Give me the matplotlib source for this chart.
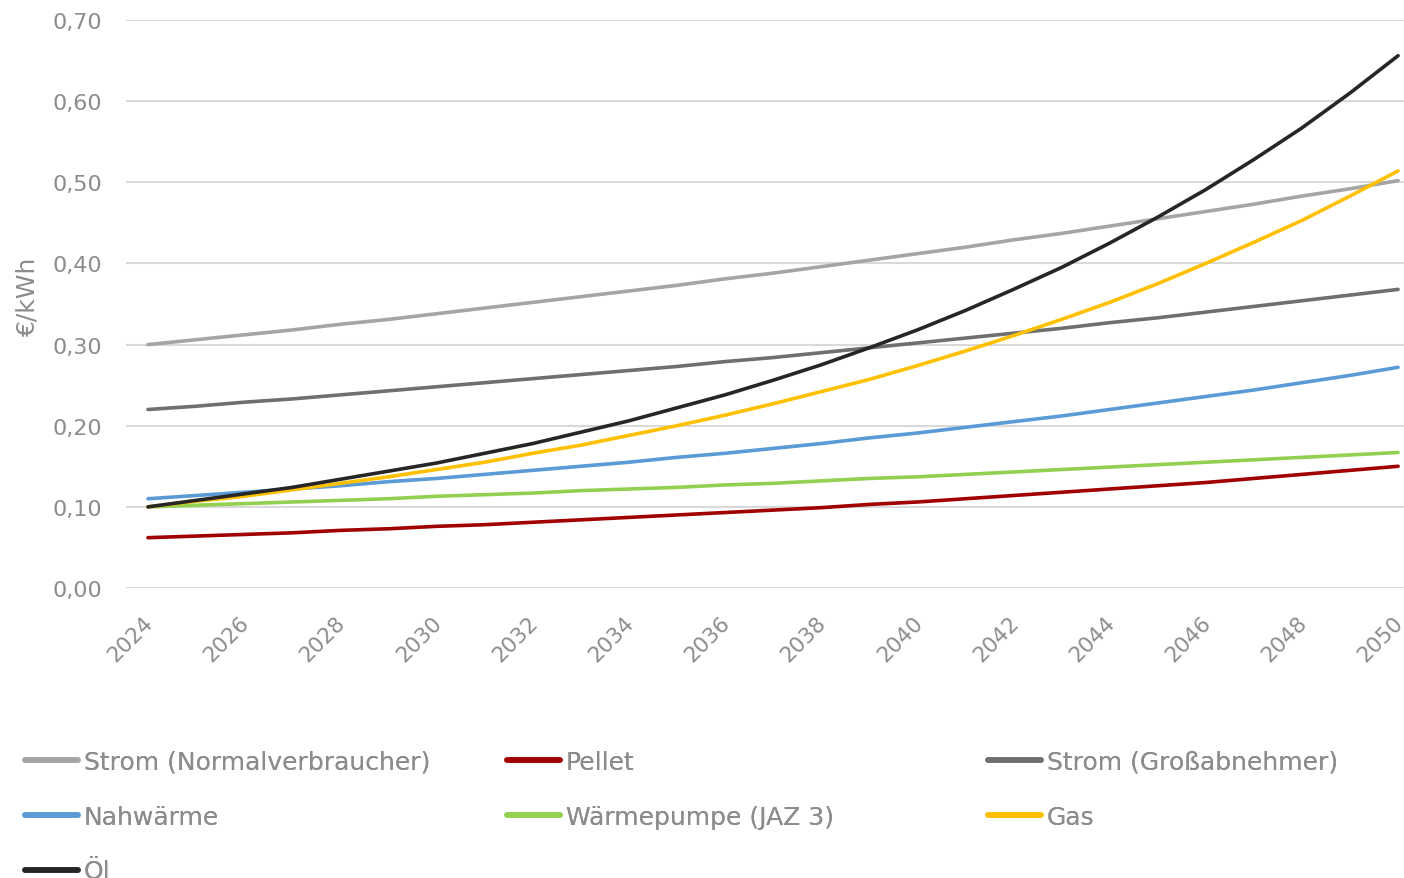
import matplotlib
matplotlib.use("Agg")
import matplotlib.pyplot as plt
from matplotlib.transforms import ScaledTranslation
from matplotlib.ticker import FuncFormatter, MultipleLocator

years = list(range(2024, 2051))

strom_normal = [0.300, 0.306, 0.312, 0.318, 0.325, 0.331, 0.338, 0.345, 0.352, 0.359,
                0.366, 0.373, 0.381, 0.388, 0.396, 0.404, 0.412, 0.420, 0.429, 0.437,
                0.446, 0.455, 0.464, 0.473, 0.483, 0.492, 0.502]
pellet = [0.062, 0.064, 0.066, 0.068, 0.071, 0.073, 0.076, 0.078, 0.081, 0.084,
          0.087, 0.090, 0.093, 0.096, 0.099, 0.103, 0.106, 0.110, 0.114, 0.118,
          0.122, 0.126, 0.130, 0.135, 0.140, 0.145, 0.150]
strom_gross = [0.220, 0.224, 0.229, 0.233, 0.238, 0.243, 0.248, 0.253, 0.258, 0.263,
               0.268, 0.273, 0.279, 0.284, 0.290, 0.296, 0.302, 0.308, 0.314, 0.320,
               0.327, 0.333, 0.340, 0.347, 0.354, 0.361, 0.368]
nahwaerme = [0.110, 0.114, 0.118, 0.122, 0.126, 0.131, 0.135, 0.140, 0.145, 0.150,
             0.155, 0.161, 0.166, 0.172, 0.178, 0.185, 0.191, 0.198, 0.205, 0.212,
             0.220, 0.228, 0.236, 0.244, 0.253, 0.262, 0.272]
waermepumpe = [0.100, 0.102, 0.104, 0.106, 0.108, 0.110, 0.113, 0.115, 0.117, 0.120,
               0.122, 0.124, 0.127, 0.129, 0.132, 0.135, 0.137, 0.140, 0.143, 0.146,
               0.149, 0.152, 0.155, 0.158, 0.161, 0.164, 0.167]
gas = [0.100, 0.107, 0.113, 0.121, 0.129, 0.137, 0.146, 0.155, 0.166, 0.176,
       0.188, 0.200, 0.213, 0.227, 0.242, 0.257, 0.274, 0.292, 0.311, 0.331,
       0.352, 0.375, 0.400, 0.426, 0.453, 0.483, 0.514]
oel = [0.100, 0.108, 0.116, 0.124, 0.134, 0.144, 0.154, 0.166, 0.178, 0.192,
       0.206, 0.222, 0.238, 0.256, 0.275, 0.296, 0.318, 0.342, 0.368, 0.395,
       0.425, 0.457, 0.491, 0.528, 0.567, 0.610, 0.656]

series = [
    ("Strom (Normalverbraucher)", strom_normal, "#A5A5A5"),
    ("Pellet", pellet, "#A00000"),
    ("Strom (Großabnehmer)", strom_gross, "#6F6F6F"),
    ("Nahwärme", nahwaerme, "#5B9BD5"),
    ("Wärmepumpe (JAZ 3)", waermepumpe, "#92D050"),
    ("Gas", gas, "#FFC000"),
    ("Öl", oel, "#262626"),
]

text_color = "#8C8C8C"
plt.rcParams["font.family"] = ["DejaVu Sans"]

fig = plt.figure(figsize=(14.04, 8.79), dpi=100)
ax = fig.add_axes([126 / 1404, 1 - 589 / 879, 1 - 126 / 1404, (589 - 21) / 879])

handles = {}
for name, values, color in series:
    (ln,) = ax.plot(years, values, color=color, lw=2.6, solid_capstyle="round",
                    solid_joinstyle="round", label=name)
    handles[name] = ln

ax.set_xlim(2024 - 22 / 48.08, 2024 + (1404 - 148) / 48.08)
ax.set_ylim(0, 0.70)
ax.yaxis.set_major_locator(MultipleLocator(0.10))
ax.yaxis.set_major_formatter(FuncFormatter(lambda v, p: f"{v:.2f}".replace(".", ",")))
ax.set_xticks(years[::2])
ax.grid(axis="y", color="#D9D9D9", lw=1.5)
ax.set_axisbelow(True)
for s in ax.spines.values():
    s.set_visible(False)
ax.tick_params(axis="y", length=0, colors=text_color, labelsize=16, pad=17)
ax.tick_params(axis="x", length=0, colors=text_color, labelsize=15.5, pad=17)
shift = ScaledTranslation(-5 / 100, 0, fig.dpi_scale_trans)
for lbl in ax.get_xticklabels():
    lbl.set_rotation(45)
    lbl.set_ha("right")
    lbl.set_va("top")
    lbl.set_rotation_mode("anchor")
    lbl.set_transform(lbl.get_transform() + shift)

fig.text(27 / 1404, 1 - 296 / 879, "€/kWh", rotation=90, ha="center", va="center",
         color=text_color, fontsize=18)

# legend: three columns, filled row by row
columns = [
    (["Strom (Normalverbraucher)", "Nahwärme", "Öl"], 25),
    (["Pellet", "Wärmepumpe (JAZ 3)"], 507),
    (["Strom (Großabnehmer)", "Gas"], 988),
]
for names, x0 in columns:
    leg = fig.legend([handles[n] for n in names], names, loc="upper left",
                     bbox_to_anchor=(x0 / 1404, 1 - 751 / 879), frameon=False,
                     fontsize=18, handlelength=2.12, handletextpad=0.24,
                     labelspacing=1.23, borderpad=0, borderaxespad=0)
    for t in leg.get_texts():
        t.set_color(text_color)
    for l in leg.get_lines():
        l.set_linewidth(4)
    fig.add_artist(leg)

fig.savefig("out.png", dpi=100, facecolor="white")
